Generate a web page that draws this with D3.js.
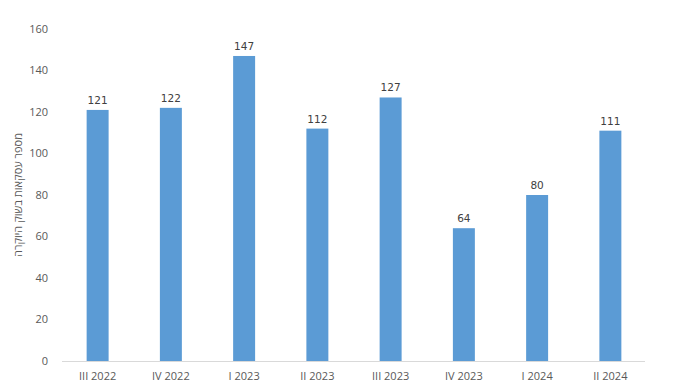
<!DOCTYPE html>
<html lang="he">
<head>
<meta charset="utf-8" />
<title>Luxury market deals</title>
<script src="https://d3js.org/d3.v7.min.js"></script>
<style>
  body { margin: 0; background: #fff; }
  svg text { font-family: "Open Sans", "Noto Sans", sans-serif; fill: #595959; }
</style>
</head>
<body>
<div id="chart"></div>
<script>
var quarters = ["III 2022", "IV 2022", "I 2023", "II 2023", "III 2023", "IV 2023", "I 2024", "II 2024"];
var deals = [121, 122, 147, 112, 127, 64, 80, 111];
var yTicks = [0, 20, 40, 60, 80, 100, 120, 140, 160];
var yTitle = "מספר עסקאות בשוק היוקרה";

var width = 680, height = 392;
var margin = {top: 29, right: 35, bottom: 31, left: 62};

var svg = d3.select("#chart").append("svg")
    .attr("width", width)
    .attr("height", height);

var x = d3.scaleBand()
    .domain(quarters)
    .range([61, 647])
    .paddingInner(0.7)
    .paddingOuter(0.35);

var y = d3.scaleLinear()
    .domain([0, 160])
    .range([height - margin.bottom, margin.top]);

// y tick labels
svg.selectAll("text.ytick")
    .data(yTicks)
    .enter().append("text")
    .attr("class", "ytick")
    .attr("x", 48)
    .attr("y", function(d) { return y(d); })
    .attr("dy", "0.35em")
    .attr("text-anchor", "end")
    .style("font-size", "11px")
    .text(function(d) { return d; });

// bars
svg.selectAll("rect.bar")
    .data(deals)
    .enter().append("rect")
    .attr("class", "bar")
    .attr("x", function(d, i) { return x(quarters[i]); })
    .attr("width", x.bandwidth())
    .attr("y", function(d) { return y(d); })
    .attr("height", function(d) { return y(0) - y(d); })
    .attr("fill", "#5b9bd5");

// baseline
svg.append("line")
    .attr("x1", margin.left)
    .attr("x2", width - margin.right)
    .attr("y1", y(0) + 0.5)
    .attr("y2", y(0) + 0.5)
    .attr("stroke", "#d9d9d9")
    .attr("stroke-width", 1);

// value labels
svg.selectAll("text.val")
    .data(deals)
    .enter().append("text")
    .attr("class", "val")
    .attr("x", function(d, i) { return x(quarters[i]) + x.bandwidth() / 2; })
    .attr("y", function(d) { return y(d) - 6; })
    .attr("text-anchor", "middle")
    .style("font-family", "'DejaVu Sans', sans-serif")
    .style("font-size", "10.5px")
    .style("fill", "#404040")
    .text(function(d) { return d; });

// category labels
svg.selectAll("text.cat")
    .data(quarters)
    .enter().append("text")
    .attr("class", "cat")
    .attr("x", function(d) { return x(d) + x.bandwidth() / 2; })
    .attr("y", y(0) + 19)
    .attr("text-anchor", "middle")
    .style("font-size", "11px")
    .text(function(d) { return d; });

// y axis title
svg.append("text")
    .attr("transform", "translate(18," + ((margin.top + height - margin.bottom) / 2) + ") rotate(-90)")
    .attr("text-anchor", "middle")
    .attr("dy", "0.35em")
    .style("font-size", "11px")
    .attr("direction", "rtl")
    .text(yTitle);
</script>
</body>
</html>
